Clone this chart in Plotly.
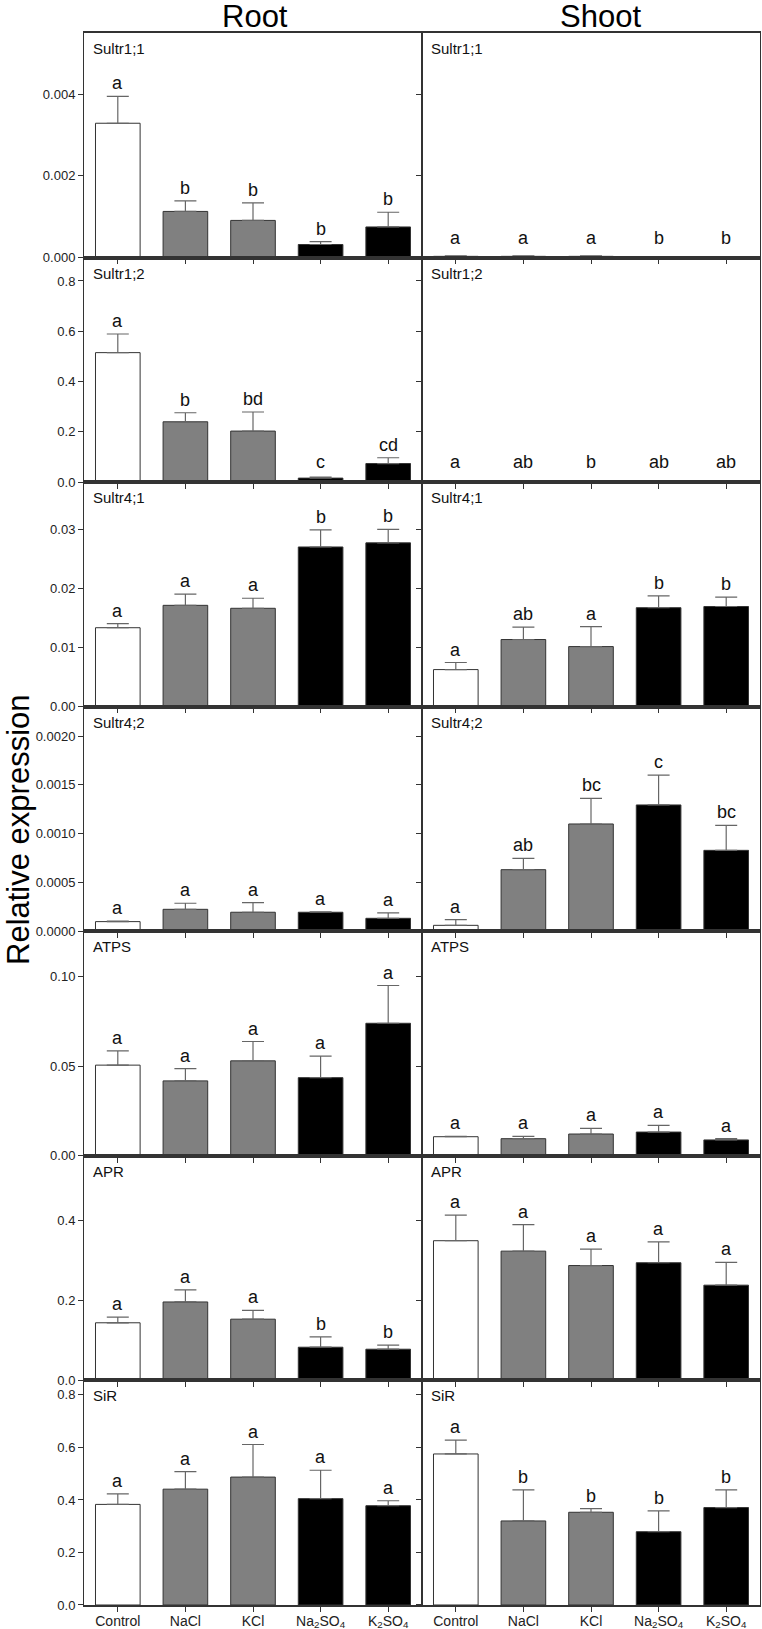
import plotly.graph_objects as go
from plotly.subplots import make_subplots

categories = ["Control", "NaCl", "KCl", "Na<sub>2</sub>SO<sub>4</sub>", "K<sub>2</sub>SO<sub>4</sub>"]
genes = ["Sultr1;1", "Sultr1;2", "Sultr4;1", "Sultr4;2", "ATPS", "APR", "SiR"]
tissues = ["Root", "Shoot"]

# mean values (root, shoot) per gene
root_mean = {
    "Sultr1;1": [0.00329, 0.00113, 0.00091, 0.00032, 0.00075],
    "Sultr1;2": [0.515, 0.240, 0.203, 0.016, 0.074],
    "Sultr4;1": [0.0134, 0.0172, 0.0167, 0.0271, 0.0278],
    "Sultr4;2": [0.000099, 0.000225, 0.000195, 0.000195, 0.000133],
    "ATPS": [0.0507, 0.0419, 0.0531, 0.0437, 0.0741],
    "APR": [0.144, 0.196, 0.153, 0.083, 0.078],
    "SiR": [0.383, 0.441, 0.487, 0.405, 0.378],
}
root_err = {
    "Sultr1;1": [0.00066, 0.00026, 0.00043, 0.00007, 0.00036],
    "Sultr1;2": [0.074, 0.036, 0.076, 0.004, 0.023],
    "Sultr4;1": [0.0007, 0.0019, 0.0017, 0.0029, 0.0023],
    "Sultr4;2": [0.000004, 0.000062, 0.000099, 0.000004, 0.000055],
    "ATPS": [0.0080, 0.0068, 0.0108, 0.0120, 0.0211],
    "APR": [0.014, 0.030, 0.022, 0.026, 0.010],
    "SiR": [0.040, 0.067, 0.124, 0.108, 0.019],
}
shoot_mean = {
    "Sultr1;1": [0.00003, 0.00003, 0.00003, 0.000002, 0.000015],
    "Sultr1;2": [0.001, 0.003, 0.005, 0.003, 0.002],
    "Sultr4;1": [0.0063, 0.0114, 0.0102, 0.0168, 0.0170],
    "Sultr4;2": [0.000061, 0.000631, 0.001099, 0.001294, 0.000829],
    "ATPS": [0.0107, 0.0096, 0.0122, 0.0133, 0.0089],
    "APR": [0.349, 0.323, 0.287, 0.294, 0.238],
    "SiR": [0.575, 0.320, 0.353, 0.279, 0.371],
}
shoot_err = {
    "Sultr1;1": [0.00001, 0.00001, 0.00001, 0.0, 0.000005],
    "Sultr1;2": [0.0005, 0.0005, 0.001, 0.0005, 0.0005],
    "Sultr4;1": [0.0012, 0.0021, 0.0034, 0.0020, 0.0016],
    "Sultr4;2": [0.000058, 0.000116, 0.000263, 0.000306, 0.000256],
    "ATPS": [0.0002, 0.0013, 0.0032, 0.0037, 0.0007],
    "APR": [0.064, 0.066, 0.041, 0.052, 0.057],
    "SiR": [0.053, 0.118, 0.014, 0.079, 0.067],
}
root_letters = {
    "Sultr1;1": ["a", "b", "b", "b", "b"],
    "Sultr1;2": ["a", "b", "bd", "c", "cd"],
    "Sultr4;1": ["a", "a", "a", "b", "b"],
    "Sultr4;2": ["a", "a", "a", "a", "a"],
    "ATPS": ["a", "a", "a", "a", "a"],
    "APR": ["a", "a", "a", "b", "b"],
    "SiR": ["a", "a", "a", "a", "a"],
}
shoot_letters = {
    "Sultr1;1": ["a", "a", "a", "b", "b"],
    "Sultr1;2": ["a", "ab", "b", "ab", "ab"],
    "Sultr4;1": ["a", "ab", "a", "b", "b"],
    "Sultr4;2": ["a", "ab", "bc", "c", "bc"],
    "ATPS": ["a", "a", "a", "a", "a"],
    "APR": ["a", "a", "a", "a", "a"],
    "SiR": ["a", "b", "b", "b", "b"],
}
y_max = {"Sultr1;1": 0.0055, "Sultr1;2": 0.893, "Sultr4;1": 0.0381, "Sultr4;2": 0.0023,
         "ATPS": 0.1255, "APR": 0.561, "SiR": 0.855}
y_dtick = {"Sultr1;1": 0.002, "Sultr1;2": 0.2, "Sultr4;1": 0.01, "Sultr4;2": 0.0005,
           "ATPS": 0.05, "APR": 0.2, "SiR": 0.2}
y_fmt = {"Sultr1;1": ".3f", "Sultr1;2": ".1f", "Sultr4;1": ".2f", "Sultr4;2": ".4f",
         "ATPS": ".2f", "APR": ".1f", "SiR": ".1f"}

fill_colors = ["#ffffff", "#808080", "#808080", "#000000", "#000000"]
FONT = "Liberation Sans, Arial, sans-serif"
LINE = "#333333"

fig = make_subplots(rows=7, cols=2, horizontal_spacing=0, vertical_spacing=0)
xs = list(range(len(categories)))

for r, g in enumerate(genes, start=1):
    for c, (means, errs, letters) in enumerate(
            [(root_mean, root_err, root_letters), (shoot_mean, shoot_err, shoot_letters)], start=1):
        fig.add_trace(go.Bar(
            x=xs, y=means[g], width=0.66,
            marker=dict(color=fill_colors, line=dict(color=LINE, width=1)),
            error_y=dict(type="data", array=errs[g], arrayminus=[0] * 5, symmetric=False,
                         color="#666666", thickness=1.2, width=11),
            showlegend=False, hoverinfo="skip",
        ), row=r, col=c)
        idx = (r - 1) * 2 + c
        xr = "x" if idx == 1 else f"x{idx}"
        yr = "y" if idx == 1 else f"y{idx}"
        for i in xs:
            top = max(means[g][i] + errs[g][i], 0.03 * y_max[g])
            fig.add_annotation(x=i, y=top, xref=xr, yref=yr,
                               text=letters[g][i], showarrow=False, yanchor="bottom",
                               yshift=1, font=dict(family=FONT, size=18, color="#111"))
        fig.add_annotation(x=0, y=1, xref=f"{xr} domain", yref=f"{yr} domain",
                           text=g, showarrow=False, xanchor="left", yanchor="top",
                           xshift=7, yshift=-5, font=dict(family=FONT, size=15, color="#111"))
        fig.update_yaxes(range=[0, y_max[g]], dtick=y_dtick[g], tick0=0, tickformat=y_fmt[g],
                         showticklabels=(c == 1), ticks="outside", ticklen=5, tickcolor=LINE,
                         showline=True, linecolor=LINE, linewidth=1, mirror=True,
                         showgrid=False, zeroline=False, automargin=False, fixedrange=True,
                         tickfont=dict(family=FONT, size=13, color="#222"), row=r, col=c)
        fig.update_xaxes(range=[-0.5, 4.5], tickvals=xs, ticktext=categories,
                         showticklabels=(r == 7), ticks="outside", ticklen=5, tickcolor=LINE,
                         showline=True, linecolor=LINE, linewidth=1.5, mirror=True,
                         showgrid=False, zeroline=False, automargin=False, fixedrange=True,
                         ticklabelstandoff=-3,
                         tickfont=dict(family=FONT, size=14, color="#222"), row=r, col=c)

W, H = 762, 1629
L, R, T, B = 84, 2, 33, 24
pw, ph = W - L - R, H - T - B

def px_x(px):
    return (px - L) / pw

def px_y(py):
    return (H - B - py) / ph

for name, cx in zip(tissues, [255, 600]):
    fig.add_annotation(x=px_x(cx), y=px_y(17), xref="paper", yref="paper", text=name,
                       showarrow=False, xanchor="center", yanchor="middle",
                       font=dict(family=FONT, size=31, color="#000"))
fig.add_annotation(x=px_x(18), y=px_y(830), xref="paper", yref="paper", text="Relative expression",
                   showarrow=False, textangle=-90, xanchor="center", yanchor="middle",
                   font=dict(family=FONT, size=31, color="#000"))

fig.update_layout(width=W, height=H, margin=dict(l=L, r=R, t=T, b=B, autoexpand=False),
                  plot_bgcolor="white", paper_bgcolor="white", template="none",
                  bargap=0.34, showlegend=False, hovermode=False)
fig.write_html("out.html", config={"displayModeBar": False},
               post_script="document.body.style.margin='0px';document.body.style.overflow='hidden';")
